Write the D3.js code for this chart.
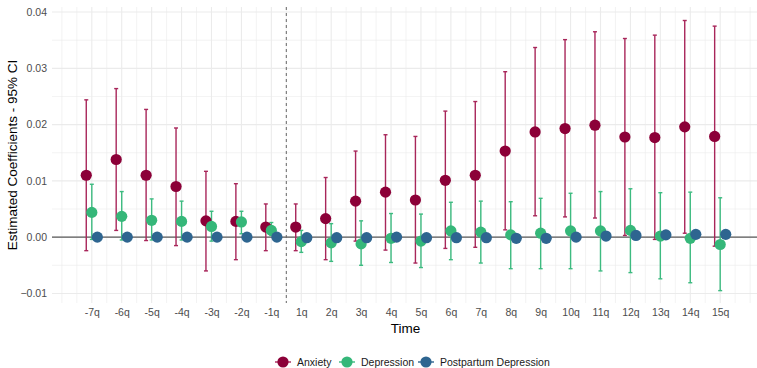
<!DOCTYPE html>
<html>
<head>
<meta charset="utf-8">
<script src="https://cdn.jsdelivr.net/npm/d3@7"></script>
<style>
  body { margin: 0; background: #fff; }
  svg { display: block; font-family: "Liberation Sans", Arial, Helvetica, sans-serif; }
</style>
</head>
<body>
<svg id="chart" width="757" height="368"></svg>
<script>
//  data
const periods = ["-7q","-6q","-5q","-4q","-3q","-2q","-1q","1q","2q","3q","4q","5q","6q","7q","8q","9q","10q","11q","12q","13q","14q","15q"];

const anxiety_est = [0.0110,0.0138,0.0110,0.0090,0.0029,0.0028,0.0018,0.0018,0.0033,0.0064,0.0080,0.0066,0.0101,0.0110,0.0153,0.0187,0.0193,0.0199,0.0178,0.0177,0.0196,0.0179];
const anxiety_lo  = [-0.0024,0.0012,-0.0006,-0.0015,-0.0060,-0.0040,-0.0024,-0.0024,-0.0040,-0.0007,-0.0023,-0.0046,-0.0020,-0.0018,0.0013,0.0038,0.0036,0.0034,0.0003,-0.0004,0.0007,-0.0016];
const anxiety_hi  = [0.0244,0.0264,0.0227,0.0194,0.0117,0.0095,0.0059,0.0059,0.0106,0.0153,0.0182,0.0179,0.0224,0.0241,0.0294,0.0337,0.0351,0.0365,0.0353,0.0359,0.0385,0.0375];

const depression_est = [0.0044,0.0037,0.0030,0.0028,0.0019,0.0027,0.0012,-0.0008,-0.0010,-0.0012,-0.0002,-0.0007,0.0011,0.0009,0.0004,0.0007,0.0011,0.0011,0.0012,0.0002,-0.0002,-0.0013];
const depression_lo  = [-0.0004,-0.0005,-0.0005,-0.0005,-0.0007,0.0006,0.0003,-0.0027,-0.0043,-0.0050,-0.0045,-0.0054,-0.0040,-0.0046,-0.0056,-0.0056,-0.0056,-0.0060,-0.0063,-0.0074,-0.0081,-0.0095];
const depression_hi  = [0.0094,0.0081,0.0068,0.0064,0.0046,0.0046,0.0026,0.0012,0.0024,0.0029,0.0042,0.0041,0.0062,0.0064,0.0063,0.0069,0.0078,0.0081,0.0086,0.0079,0.0080,0.0070];

const ppd_est = [0,0,0,0,0,0,0,-0.0001,-0.0001,-0.0001,0,-0.0001,-0.0001,-0.0001,-0.0002,-0.0002,0,0.0002,0.0003,0.0004,0.0005,0.0005];
const ppd_lo  = [0,0,0,0,0,0,0,-0.0003,-0.0003,-0.0003,-0.0002,-0.0003,-0.0003,-0.0003,-0.0004,-0.0004,-0.0002,0,0.0001,0.0002,0.0003,0.0003];
const ppd_hi  = [0,0,0,0,0,0,0,0.0001,0.0001,0.0001,0.0002,0.0001,0.0001,0.0001,0,0,0.0002,0.0004,0.0005,0.0006,0.0007,0.0007];

const y_ticks = [-0.01, 0.00, 0.01, 0.02, 0.03, 0.04];

const series = [
  {name: "Anxiety", color: "#8C0038", bar: "#A8265A", est: anxiety_est, lo: anxiety_lo, hi: anxiety_hi},
  {name: "Depression", color: "#35B779", bar: "#3DBB80", est: depression_est, lo: depression_lo, hi: depression_hi},
  {name: "Postpartum Depression", color: "#2E6590", bar: "#2E6590", est: ppd_est, lo: ppd_lo, hi: ppd_hi}
];

//  panel
const panel = {left: 52, right: 757, top: 7, bottom: 303};
const svg = d3.select("#chart");

//  x is index of the period, ggplot-like continuous with extra room
const x = d3.scaleLinear().domain([-1.33, 22.23]).range([panel.left, panel.right]);
const y = d3.scaleLinear().domain([-0.0117, 0.0409]).range([panel.bottom, panel.top]);
const dodge = 0.185;

//  grid
const grid = svg.append("g");
d3.range(-0.01, 0.0401, 0.005).forEach(v => {
  const major = Math.abs(Math.round(v * 1000) % 10) == 0;
  grid.append("line")
    .attr("x1", panel.left).attr("x2", panel.right)
    .attr("y1", y(v)).attr("y2", y(v))
    .attr("stroke", "#EBEBEB").attr("stroke-width", major ? 1.1 : 0.6);
});
d3.range(-1, 22.6, 0.5).forEach(v => {
  if (x(v) < panel.left || x(v) > panel.right) return;
  const major = Number.isInteger(v) && v >= 0 && v < periods.length;
  grid.append("line")
    .attr("x1", x(v)).attr("x2", x(v))
    .attr("y1", panel.top).attr("y2", panel.bottom)
    .attr("stroke", "#EBEBEB").attr("stroke-width", major ? 1.1 : 0.6);
});

//  zero line and event line
svg.append("line")
  .attr("x1", panel.left).attr("x2", panel.right)
  .attr("y1", y(0)).attr("y2", y(0))
  .attr("stroke", "#5a5a5a").attr("stroke-width", 1.1);

svg.append("line")
  .attr("x1", x(6.5)).attr("x2", x(6.5))
  .attr("y1", panel.top).attr("y2", panel.bottom)
  .attr("stroke", "#666").attr("stroke-width", 1)
  .attr("stroke-dasharray", "3,3");

//  axes labels
const yAxis = svg.append("g")
  .attr("transform", `translate(${panel.left},0)`)
  .call(d3.axisLeft(y).tickValues(y_ticks).tickFormat(d3.format(".2f")).tickSize(0).tickPadding(5));
yAxis.select(".domain").remove();
yAxis.selectAll("text").attr("fill", "#4D4D4D").style("font-size", "10.5px");

const xAxis = svg.append("g")
  .attr("transform", `translate(0,${panel.bottom})`)
  .call(d3.axisBottom(x).tickValues(d3.range(periods.length)).tickFormat(i => periods[i]).tickSize(0).tickPadding(6));
xAxis.select(".domain").remove();
xAxis.selectAll("text").attr("fill", "#4D4D4D").style("font-size", "10.5px");

svg.append("text")
  .attr("transform", `translate(17,${(panel.top + panel.bottom) / 2}) rotate(-90)`)
  .attr("text-anchor", "middle")
  .style("font-size", "13.5px")
  .text("Estimated Coefficients - 95% CI");

svg.append("text")
  .attr("x", (panel.left + panel.right) / 2 + 1)
  .attr("y", 333)
  .attr("text-anchor", "middle")
  .style("font-size", "13.5px")
  .text("Time");

//  error bars
series.forEach((s, k) => {
  const g = svg.append("g");
  periods.forEach((p, i) => {
    const cx = x(i + (k - 1) * dodge);
    g.append("line")
      .attr("x1", cx).attr("x2", cx)
      .attr("y1", y(s.lo[i])).attr("y2", y(s.hi[i]))
      .attr("stroke", s.bar).attr("stroke-width", 1.4);
    [s.lo[i], s.hi[i]].forEach(v => {
      g.append("line")
        .attr("x1", cx - 2).attr("x2", cx + 2)
        .attr("y1", y(v)).attr("y2", y(v))
        .attr("stroke", s.bar).attr("stroke-width", 1.4);
    });
  });
});

//  points
series.forEach((s, k) => {
  svg.append("g").selectAll("circle")
    .data(s.est)
    .join("circle")
    .attr("cx", (d, i) => x(i + (k - 1) * dodge))
    .attr("cy", d => y(d))
    .attr("r", 5.6)
    .attr("fill", s.color);
});

//  legend
const legend_x = [283, 347, 426];
const legend = svg.append("g").attr("transform", "translate(0,362)");
series.forEach((s, k) => {
  const g = legend.append("g").attr("transform", `translate(${legend_x[k]},0)`);
  g.append("line").attr("x1", -8).attr("x2", 8)
    .attr("stroke", s.bar).attr("stroke-width", 1.4);
  g.append("circle").attr("r", 5.6).attr("fill", s.color);
  g.append("text").attr("x", 14).attr("y", 4)
    .style("font-size", "10.5px").attr("fill", "#1a1a1a")
    .text(s.name);
});
</script>
</body>
</html>
